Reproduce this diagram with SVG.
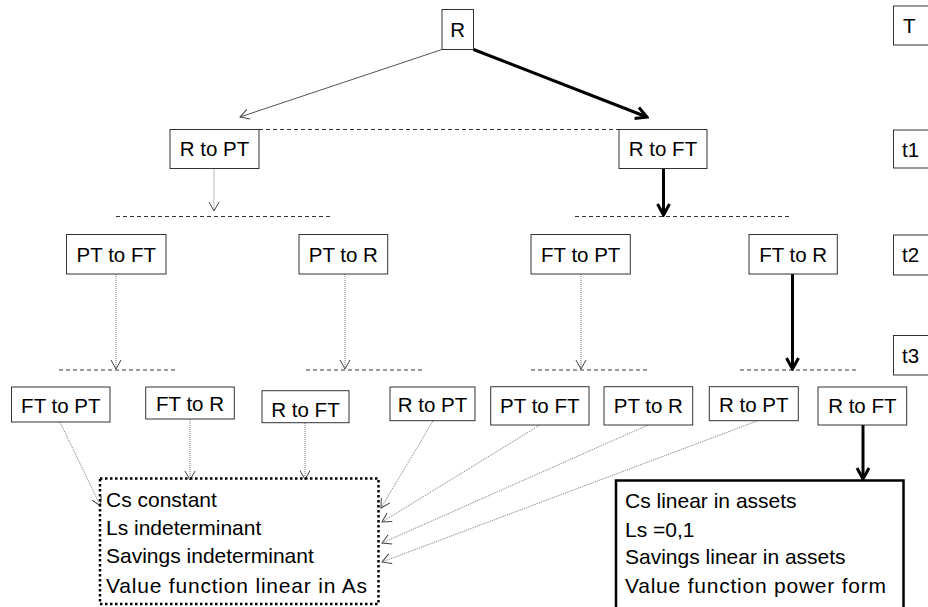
<svg xmlns="http://www.w3.org/2000/svg" width="928" height="607" viewBox="0 0 928 607">
<style>
.box{fill:#fff;stroke:#333;stroke-width:1}
.lbl{font-family:"Liberation Sans",Arial,sans-serif;font-size:20.5px;fill:#000;text-anchor:middle}
.tl{font-family:"Liberation Sans",Arial,sans-serif;font-size:20.5px;fill:#000}
.txt{font-family:"Liberation Sans",Arial,sans-serif;font-size:21px;fill:#000}
.dash{stroke:#333;stroke-width:1;stroke-dasharray:4,3;fill:none}
.thin{stroke:#555;stroke-width:1;fill:none;marker-end:url(#ah)}
.dot{stroke:#777;stroke-width:1;stroke-dasharray:1,1;fill:none;marker-end:url(#ah)}
.thick{stroke:#000;stroke-width:3;fill:none;marker-end:url(#ahb)}
</style>
<defs>
<marker id="ah" markerUnits="userSpaceOnUse" markerWidth="12" markerHeight="12" viewBox="0 0 12 12" refX="11" refY="6" orient="auto">
<path d="M2,1 L11,6 L2,11" fill="none" stroke="#444" stroke-width="1"/>
</marker>
<marker id="ahb" markerUnits="userSpaceOnUse" markerWidth="16" markerHeight="16" viewBox="0 0 16 16" refX="14" refY="8" orient="auto">
<path d="M3,2 L14,8 L3,14" fill="none" stroke="#000" stroke-width="3"/>
</marker>
</defs>
<rect width="928" height="607" fill="#fff"/>

<g id="connectors">
<line class="dash" x1="259" y1="129.5" x2="619" y2="129.5"/>
<line class="dash" x1="116" y1="216.5" x2="330" y2="216.5"/>
<line class="dash" x1="575" y1="216.5" x2="790" y2="216.5"/>
<line class="dash" x1="59" y1="370" x2="177" y2="370"/>
<line class="dash" x1="306" y1="370" x2="423" y2="370"/>
<line class="dash" x1="531" y1="370" x2="648" y2="370"/>
<line class="dash" x1="740" y1="370" x2="857" y2="370"/>
<line class="thin" x1="442" y1="49.5" x2="240" y2="117"/>
<line class="thick" x1="473.5" y1="49.5" x2="647" y2="117"/>
<line class="dot" x1="214" y1="168.5" x2="214" y2="211"/>
<line class="thick" x1="663.5" y1="168.5" x2="663.5" y2="215"/>
<line class="dot" x1="116" y1="274" x2="116" y2="369"/>
<line class="dot" x1="345" y1="274" x2="345" y2="369"/>
<line class="dot" x1="581" y1="274" x2="581" y2="369"/>
<line class="thick" x1="792.5" y1="274" x2="792.5" y2="369"/>
<line class="dot" x1="60" y1="422" x2="100.5" y2="506"/>
<line class="dot" x1="190" y1="419" x2="190" y2="480"/>
<line class="dot" x1="305" y1="423" x2="305" y2="479.5"/>
<line class="dot" x1="433" y1="421" x2="381" y2="508"/>
<line class="dot" x1="540" y1="425" x2="382" y2="522"/>
<line class="dot" x1="648" y1="425" x2="382" y2="543"/>
<line class="dot" x1="757" y1="421" x2="382" y2="562"/>
<line class="thick" x1="863" y1="425" x2="863" y2="479"/>
</g>

<g id="n-R"><rect class="box" x="442" y="9.5" width="31.5" height="40"/><text class="lbl" x="457.7" y="36.5">R</text></g>
<g id="n-T"><rect class="box" x="893.5" y="6" width="50" height="39"/><text class="tl" x="903" y="33">T</text></g>
<g id="n-t1"><rect class="box" x="893.5" y="130" width="50" height="38"/><text class="tl" x="902" y="156.5">t1</text></g>
<g id="n-t2"><rect class="box" x="893.5" y="235" width="50" height="40"/><text class="tl" x="902" y="262">t2</text></g>
<g id="n-t3"><rect class="box" x="893.5" y="335.5" width="50" height="39.5"/><text class="tl" x="902" y="362.5">t3</text></g>

<g id="n-RtoPT"><rect class="box" x="170" y="129.5" width="89" height="39"/><text class="lbl" x="214.5" y="156">R to PT</text></g>
<g id="n-RtoFT"><rect class="box" x="619" y="129.5" width="88" height="39"/><text class="lbl" x="663" y="156">R to FT</text></g>

<g id="n-PTtoFT"><rect class="box" x="66.5" y="234.5" width="99.5" height="39.5"/><text class="lbl" x="116.3" y="261.5">PT to FT</text></g>
<g id="n-PTtoR"><rect class="box" x="299" y="234.5" width="88.7" height="39.5"/><text class="lbl" x="343.3" y="261.5">PT to R</text></g>
<g id="n-FTtoPT"><rect class="box" x="531" y="234.5" width="99.3" height="39.5"/><text class="lbl" x="580.7" y="261.5">FT to PT</text></g>
<g id="n-FTtoR"><rect class="box" x="749" y="234.5" width="88.3" height="39.5"/><text class="lbl" x="793.2" y="261.5">FT to R</text></g>

<g id="n-b1"><rect class="box" x="11.5" y="387" width="98.5" height="35"/><text class="lbl" x="60.8" y="413">FT to PT</text></g>
<g id="n-b2"><rect class="box" x="145.7" y="387" width="88.6" height="32"/><text class="lbl" x="190" y="411">FT to R</text></g>
<g id="n-b3"><rect class="box" x="262" y="390.7" width="87" height="32"/><text class="lbl" x="305.5" y="416.5">R to FT</text></g>
<g id="n-b4"><rect class="box" x="390" y="387" width="85" height="33.7"/><text class="lbl" x="432.5" y="412">R to PT</text></g>
<g id="n-b5"><rect class="box" x="490.7" y="386.7" width="98.3" height="38.3"/><text class="lbl" x="539.8" y="413">PT to FT</text></g>
<g id="n-b6"><rect class="box" x="604" y="386.7" width="88.7" height="38.3"/><text class="lbl" x="648.3" y="413">PT to R</text></g>
<g id="n-b7"><rect class="box" x="709.3" y="386.7" width="89" height="34"/><text class="lbl" x="753.8" y="412">R to PT</text></g>
<g id="n-b8"><rect class="box" x="818" y="387" width="88.7" height="38"/><text class="lbl" x="862.3" y="413">R to FT</text></g>

<g id="n-resultA">
<rect x="100" y="478.5" width="278.5" height="125.5" fill="none" stroke="#000" stroke-width="2.5" stroke-dasharray="2.5,2.5"/>
<text class="txt" x="106" y="507">Cs constant</text>
<text class="txt" x="106" y="534.5">Ls indeterminant</text>
<text class="txt" x="106" y="563">Savings indeterminant</text>
<text class="txt" x="106" y="593" textLength="261">Value function linear in As</text>
</g>
<g id="n-resultB">
<rect x="616" y="480.5" width="287.5" height="140" fill="#fff" stroke="#000" stroke-width="2.5"/>
<text class="txt" x="625" y="507.5">Cs linear in assets</text>
<text class="txt" x="625" y="537">Ls =0,1</text>
<text class="txt" x="625" y="564">Savings linear in assets</text>
<text class="txt" x="625" y="592.5" textLength="261">Value function power form</text>
</g>
</svg>
